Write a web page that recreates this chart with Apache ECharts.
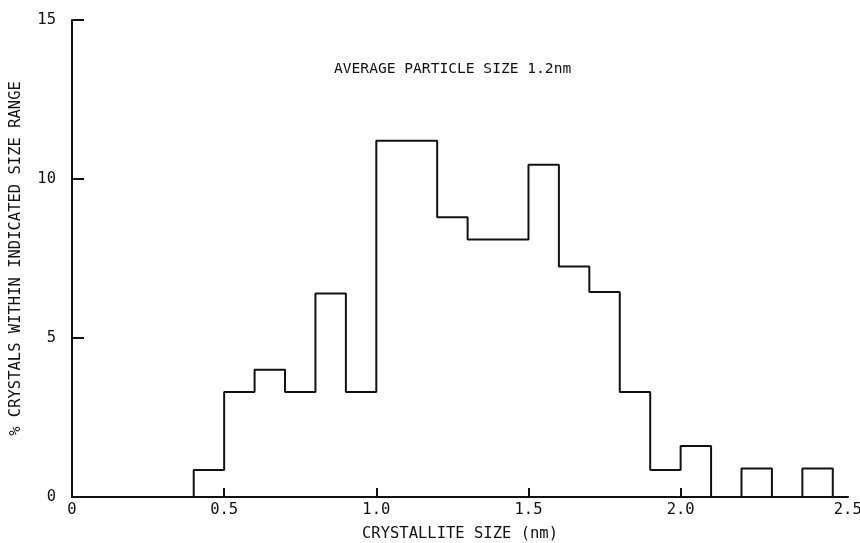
<!DOCTYPE html>
<html>
<head>
<meta charset="utf-8">
<script src="https://cdn.jsdelivr.net/npm/echarts@6/dist/echarts.min.js"></script>
<style>
  html, body { margin: 0; padding: 0; background: #fff; }
  #chart { width: 860px; height: 543px; }
</style>
</head>
<body>
<div id="chart"></div>
<script>
// Size distribution of crystallites, in 0.1 nm bins
const binLeft = [0.4, 0.5, 0.6, 0.7, 0.8, 0.9, 1.0, 1.1, 1.2, 1.3, 1.4, 1.5, 1.6, 1.7, 1.8, 1.9, 2.0, 2.1, 2.2, 2.3, 2.4];
const percent = [0.85, 3.3, 4.0, 3.3, 6.4, 3.3, 11.2, 11.2, 8.8, 8.1, 8.1, 10.45, 7.25, 6.45, 3.3, 0.85, 1.6, 0, 0.9, 0, 0.9];
const binWidth = 0.1;

const xTickValues = [0.5, 1.0, 1.5, 2.0];
const xLabelValues = [0, 0.5, 1.0, 1.5, 2.0, 2.5];
const yTickValues = [0, 5, 10, 15];

const titleText = 'AVERAGE PARTICLE SIZE 1.2nm';
const xName = 'CRYSTALLITE SIZE (nm)';
const yName = '% CRYSTALS WITHIN INDICATED SIZE RANGE';

// Step outline: each point starts a bin, the line holds its height until the next bin
const outline = [[binLeft[0], 0]];
binLeft.forEach((x, i) => outline.push([x, percent[i]]));
outline.push([binLeft[binLeft.length - 1] + binWidth, 0]);

const font = 'DejaVu Sans Mono';
const ink = '#111';

const chart = echarts.init(document.getElementById('chart'), null, { renderer: 'canvas' });
chart.setOption({
  backgroundColor: '#fff',
  animation: false,
  title: {
    text: titleText,
    left: 329,
    top: 57,
    textStyle: { fontFamily: font, fontSize: 14.6, fontWeight: 'normal', color: ink }
  },
  grid: {
    left: 72, right: 12, top: 20, bottom: 46,
    containLabel: false, outerBoundsMode: 'none'
  },
  xAxis: {
    type: 'value',
    min: 0,
    max: 2.55,
    interval: 0.5,
    name: xName,
    nameLocation: 'middle',
    nameGap: 29,
    nameTextStyle: { fontFamily: font, fontSize: 15.5, color: ink },
    splitLine: { show: false },
    axisLine: { lineStyle: { color: ink, width: 2 } },
    axisTick: {
      inside: true, length: 9, customValues: xTickValues,
      lineStyle: { color: ink, width: 2 }
    },
    axisLabel: {
      customValues: xLabelValues,
      margin: 5,
      fontFamily: font, fontSize: 15.5, color: ink,
      formatter: v => (v === 0 ? '0' : (v === 2.5 ? '{e|2.5}' : v.toFixed(1))),
      rich: { e: { fontFamily: font, fontSize: 15.5, color: ink, padding: [0, 0, 0, 30] } }
    }
  },
  yAxis: {
    type: 'value',
    min: 0,
    max: 15,
    interval: 5,
    name: yName,
    nameLocation: 'middle',
    nameGap: 48,
    nameTextStyle: { fontFamily: font, fontSize: 15.5, color: ink },
    splitLine: { show: false },
    axisLine: { show: true, lineStyle: { color: ink, width: 2 } },
    axisTick: {
      show: true, inside: true, length: 12, customValues: yTickValues,
      lineStyle: { color: ink, width: 2 }
    },
    axisLabel: { margin: 16, fontFamily: font, fontSize: 15.5, color: ink }
  },
  series: [{
    type: 'line',
    step: 'end',
    data: outline,
    symbol: 'none',
    lineStyle: { color: ink, width: 2 },
    z: 3
  }]
});
</script>
</body>
</html>
